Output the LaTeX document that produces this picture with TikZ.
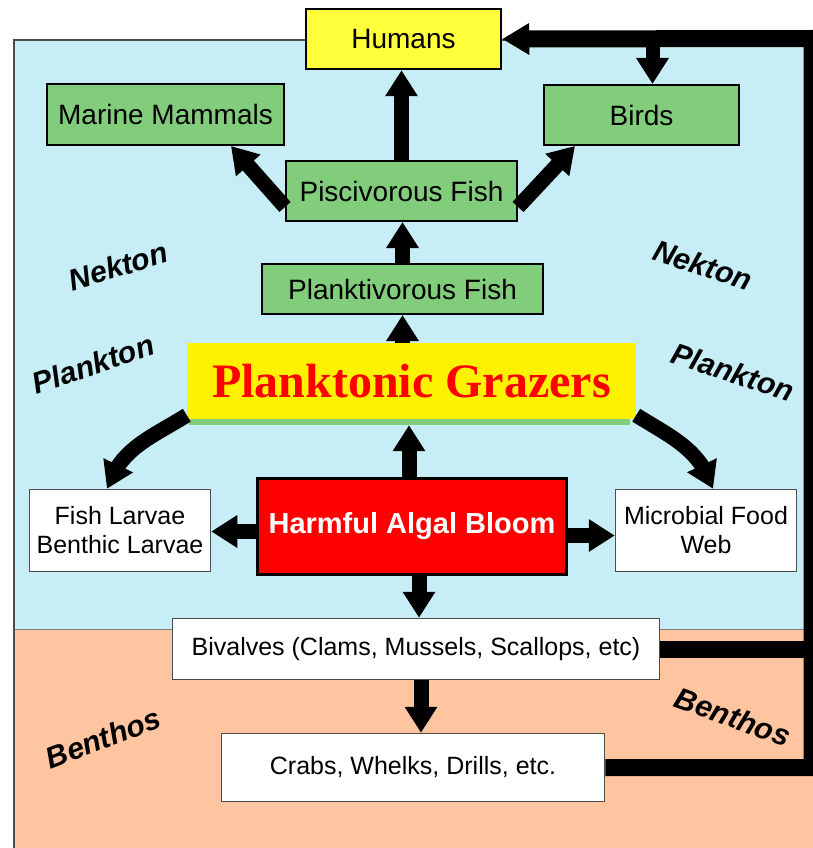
\documentclass[tikz,border=0pt]{standalone}
\usepackage{fontspec}
\setmainfont{Liberation Sans}
\newfontfamily\grazerfont{Liberation Serif}
\usetikzlibrary{arrows.meta, bending, positioning}
\definecolor{seablue}{RGB}{199,238,246}
\definecolor{seafloor}{RGB}{255,197,161}
\definecolor{nektongreen}{RGB}{130,205,124}
\definecolor{bloomred}{RGB}{255,0,0}
\definecolor{humanyellow}{RGB}{255,255,60}

\tikzset{
  greenbox/.style={draw=black, line width=2pt, fill=nektongreen, inner sep=0pt, font=\fontsize{28}{30}\selectfont},
  whitebox/.style={draw=black!70, line width=1.5pt, fill=white, inner sep=0pt, align=center, font=\fontsize{25}{29}\selectfont},
  fatarrow/.style={line width=15pt, -{Triangle[width=31pt,length=26pt]}},
  bentarrow/.style={line width=15pt, -{Triangle[width=31pt,length=26pt,flex]}},
  feedbar/.style={line width=17pt},
  zonelabel/.style={font=\fontsize{30}{30}\selectfont\bfseries\itshape},
}

\begin{document}
\begin{tikzpicture}[x=1pt, y=-1pt]
    \useasboundingbox (0,0) rectangle (813,848);

    % Water column and sea floor
    \fill[seablue] (14,40) rectangle (808,629);
    \fill[seafloor] (14,629) rectangle (813,848);
    \draw[black!50, line width=1pt] (14,629) -- (808,629);
    \draw[black!70, line width=1.5pt] (14,848) -- (14,40) -- (808,40);

    % Zone labels
    \node[zonelabel, rotate=17] (nektonL) at (118,266) {Nekton};
    \node[zonelabel, rotate=19] (planktonL) at (93,364) {Plankton};
    \node[zonelabel, rotate=-18] (nektonR) at (703,265) {Nekton};
    \node[zonelabel, rotate=-18] (planktonR) at (733,372) {Plankton};
    \node[zonelabel, rotate=21] (benthosL) at (103,738) {Benthos};
    \node[zonelabel, rotate=-20] (benthosR) at (733,717) {Benthos};

    % Boxes
    \node[greenbox, fill=humanyellow, line width=2.5pt, minimum width=195pt, minimum height=60pt] (humans) at (403.5,39) {Humans};
    \node[greenbox, minimum width=237pt, minimum height=61pt] (mammals) at (165.5,114.5) {Marine Mammals};
    \node[greenbox, minimum width=195pt, minimum height=60pt] (birds) at (641.5,115) {Birds};
    \node[greenbox, minimum width=231pt, minimum height=60pt] (pisc) at (401.5,191) {Piscivorous Fish};
    \node[greenbox, minimum width=281pt, minimum height=50pt] (planktiv) at (402.5,289) {Planktivorous Fish};
    \node[fill=nektongreen, inner sep=0pt, minimum width=441pt, minimum height=12pt] (grazerbase) at (409.5,419) {};
    \node[fill=yellow, inner sep=0pt, minimum width=449pt, minimum height=76pt,
          font=\grazerfont\fontsize{48}{50}\selectfont\bfseries, text=bloomred] (grazers) at (411.5,381) {Planktonic Grazers};
    \node[whitebox, minimum width=181pt, minimum height=82pt] (larvae) at (120,530.5) {Fish Larvae\\Benthic Larvae};
    \node[greenbox, fill=bloomred, line width=3pt, minimum width=309pt, minimum height=96pt,
          text=white, font=\fontsize{29}{30}\selectfont\bfseries] (hab) at (412,526.5) {Harmful Algal Bloom};
    \node[whitebox, minimum width=181pt, minimum height=82pt] (microbial) at (706,530.5) {Microbial Food\\Web};
    \node[whitebox, minimum width=487pt, minimum height=61pt] (bivalves) at (416,649) {Bivalves (Clams, Mussels, Scallops, etc)};
    \node[whitebox, minimum width=383pt, minimum height=68pt] (crabs) at (413,767.5) {Crabs, Whelks, Drills, etc.};

    % Feeding arrows
    \draw[fatarrow] (pisc.north) -- (pisc.north |- humans.south);
    \draw[fatarrow] ([yshift=-16pt]pisc.west) -- ([xshift=-54pt]mammals.south east);
    \draw[fatarrow] ([yshift=-16pt]pisc.east) -- ([xshift=32pt]birds.south west);
    \draw[fatarrow] (planktiv.north) -- (planktiv.north |- pisc.south);
    \draw[fatarrow] (planktiv.south |- grazers.north) -- (planktiv.south);
    \draw[fatarrow] ([xshift=-3pt]hab.north) -- ([xshift=-3pt]hab.north |- grazerbase.south);
    \draw[bentarrow] ([yshift=4pt]grazers.south west) to[out=212, in=72] ([xshift=-13pt]larvae.north);
    \draw[bentarrow] ([yshift=4pt]grazers.south east) to[out=-32, in=108] ([xshift=7pt]microbial.north);
    \draw[fatarrow] ([yshift=-5pt]hab.west) -- ([yshift=-5pt]hab.west -| larvae.east);
    \draw[fatarrow] ([yshift=-9pt]hab.east) -- ([yshift=-9pt]hab.east -| microbial.west);
    \draw[fatarrow] ([xshift=7pt]hab.south) -- ([xshift=7pt]hab.south |- bivalves.north);
    \draw[fatarrow] ([xshift=5pt]bivalves.south) -- ([xshift=5pt]bivalves.south |- crabs.north);

    % Harvest loop back to humans
    \coordinate (topright) at (812,38.5);
    \draw[feedbar, -{Triangle[width=30pt,length=27pt]}] (crabs.east) -| (topright) -- (humans.east);
    \draw[feedbar] (bivalves.east) -- (bivalves.east -| topright);
    \draw[fatarrow, line width=14pt] ([xshift=11pt]birds.north |- topright) -- ([xshift=11pt]birds.north);
\end{tikzpicture}
\end{document}
